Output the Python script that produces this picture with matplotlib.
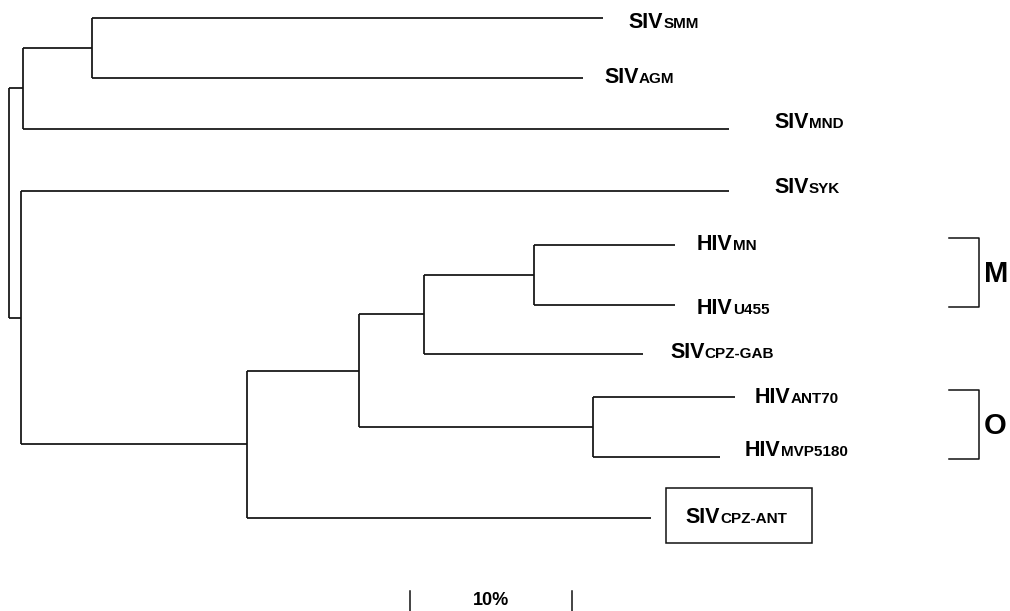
import matplotlib
matplotlib.use("Agg")
import matplotlib.pyplot as plt
from matplotlib.transforms import offset_copy, IdentityTransform
from matplotlib.patches import Rectangle

# ---------------- data: tree topology and branch lengths (substitutions/site) ----------------
node_names = ["root", "A", "B", "SMM", "AGM", "MND", "C", "SYK", "D", "E", "F", "G",
              "MN", "U455", "CPZ-GAB", "H", "ANT70", "MVP5180", "CPZ-ANT"]
node_parent = [None, "root", "A", "B", "B", "A", "root", "C", "C", "D", "E", "F",
               "G", "G", "F", "E", "H", "H", "D"]
branch_length = [0.0, 0.0090, 0.0426, 0.3159, 0.3039, 0.4366, 0.0079, 0.4377, 0.1399,
                 0.0690, 0.0402, 0.0678, 0.0874, 0.0874, 0.1354, 0.1447, 0.0878, 0.0785,
                 0.2494]

leaf_names = ["SMM", "AGM", "MND", "SYK", "MN", "U455", "CPZ-GAB", "ANT70", "MVP5180", "CPZ-ANT"]
leaf_prefix = ["SIV", "SIV", "SIV", "SIV", "HIV", "HIV", "SIV", "HIV", "HIV", "SIV"]
leaf_suffix = ["SMM", "AGM", "MND", "SYK", "MN", "U455", "CPZ-GAB", "ANT70", "MVP5180", "CPZ-ANT"]
boxed_leaf = "CPZ-ANT"

clade_labels = ["M", "O"]
clade_members = [("MN", "U455"), ("ANT70", "MVP5180")]

scale_length = 0.10
scale_label = "10%"

# ---------------- layout ----------------
leaf_row = [17.5, 77.5, 129, 191, 244.5, 304.5, 354.3, 396.7, 457, 517.5]   # vertical slots
label_gap = [26, 21, 45, 45, 22, 22, 27, 20, 25, 35]                          # px after tip
label_dy = [11, 5.4, -1.0, 1.6, 5, 9, 4, 6.6, -0.5, 5.7]                      # baseline offset
W, H, DPI = 1010, 611, 100
PX_PER_UNIT = 1617.0
ROOT_PX = 8.5
scale_start = 0.2483
bracket_x = 0.6002
bracket_w = 30
lw = 1.25
col = "#111111"
FONT = "Liberation Sans"
big_size, small_size = 15.5, 11

fig = plt.figure(figsize=(W / DPI, H / DPI), dpi=DPI)
ax = fig.add_axes([0, 0, 1, 1])
ax.set_xlim(-ROOT_PX / PX_PER_UNIT, (W - ROOT_PX) / PX_PER_UNIT)
ax.set_ylim(H, 0)
ax.axis("off")

# ---------------- compute node depth and vertical positions ----------------
parent = dict(zip(node_names, node_parent))
blen = dict(zip(node_names, branch_length))
children = {n: [] for n in node_names}
for n, p in zip(node_names, node_parent):
    if p is not None:
        children[p].append(n)

depth = {}
def get_depth(n):
    if n not in depth:
        p = parent[n]
        depth[n] = 0.0 if p is None else get_depth(p) + blen[n]
    return depth[n]
for n in node_names:
    get_depth(n)

ypos = dict(zip(leaf_names, leaf_row))
def get_y(n):
    if n not in ypos:
        ys = [get_y(c) for c in children[n]]
        ypos[n] = (min(ys) + max(ys)) / 2
    return ypos[n]
get_y("root")

# ---------------- draw branches ----------------
for n in node_names:
    ch = children[n]
    if ch:
        ys = [ypos[c] for c in ch]
        ax.plot([depth[n], depth[n]], [min(ys), max(ys)], color=col, lw=lw,
                solid_capstyle="butt")
        for c in ch:
            ax.plot([depth[n], depth[c]], [ypos[c], ypos[c]], color=col, lw=lw,
                    solid_capstyle="butt")

# ---------------- leaf labels ----------------
fig.canvas.draw()
renderer = fig.canvas.get_renderer()
for name, pre, suf, gap, dy in zip(leaf_names, leaf_prefix, leaf_suffix, label_gap, label_dy):
    x = depth[name]
    y = ypos[name] + dy
    t1 = ax.text(x, y, pre, fontsize=big_size, fontweight="bold", family=FONT,
                 va="baseline", ha="left",
                 transform=offset_copy(ax.transData, fig=fig, x=gap, y=0, units="dots"))
    w1 = t1.get_window_extent(renderer).width
    t2 = ax.text(x, y, suf, fontsize=small_size, fontweight="bold", family=FONT,
                 va="baseline", ha="left",
                 transform=offset_copy(ax.transData, fig=fig, x=gap + w1, y=0, units="dots"))
    if name == boxed_leaf:
        w2 = t2.get_window_extent(renderer).width
        bx, by = ax.transData.transform((x, y))
        left = bx + gap - 20
        right = bx + gap + w1 + w2 + 25
        bottom = by - 20
        top = by + 35
        fig.patches.append(Rectangle((left, bottom), right - left, top - bottom,
                                     transform=IdentityTransform(), fill=False,
                                     edgecolor=col, lw=1.1, figure=fig))

# ---------------- clade brackets ----------------
for lab, (a, b) in zip(clade_labels, clade_members):
    y0 = min(ypos[a], ypos[b]) - 7
    y1 = max(ypos[a], ypos[b]) + 2
    bxd, _ = ax.transData.transform((bracket_x, 0))
    xl = ax.transData.inverted().transform((bxd - bracket_w, 0))[0]
    ax.plot([xl, bracket_x, bracket_x, xl], [y0, y0, y1, y1], color=col, lw=1.1)
    ax.text(bracket_x, (y0 + y1) / 2 + 2, lab, fontsize=21, fontweight="bold", family=FONT,
            va="center", ha="left",
            transform=offset_copy(ax.transData, fig=fig, x=5, y=0, units="dots"))

# ---------------- scale bar ----------------
for xs in (scale_start, scale_start + scale_length):
    ax.plot([xs, xs], [590.7, 612], color=col, lw=1.1)
ax.text(scale_start + scale_length / 2, 600.5, scale_label, fontsize=13, fontweight="bold",
        family=FONT, ha="center", va="center")

fig.savefig("out.png", dpi=DPI)
